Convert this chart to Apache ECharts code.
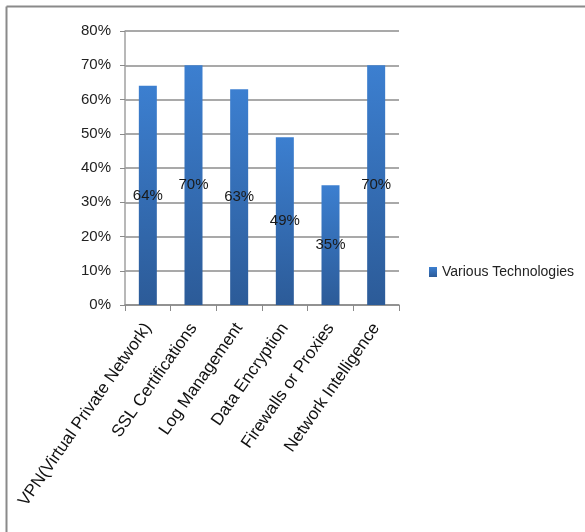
<!DOCTYPE html>
<html>
<head>
<meta charset="utf-8">
<script src="https://cdn.jsdelivr.net/npm/echarts@6/dist/echarts.min.js"></script>
<style>
  html, body { margin: 0; padding: 0; background: #fff; }
  #chart { width: 585px; height: 532px; }
</style>
</head>
<body>
<div id="chart"></div>
<script>
// Technologies on the category axis
const categories = [
  'VPN(Virtual Private Network)',
  'SSL Certifications',
  'Log Management',
  'Data Encryption',
  'Firewalls or Proxies',
  'Network Intelligence'
];
// Share of adoption, in percent
const values = [64, 70, 63, 49, 35, 70];
const seriesName = 'Various Technologies';
// Percent axis range and step
const yMin = 0, yMax = 80, yStep = 10;

const FONT = '"Liberation Sans", Arial, sans-serif';
const chart = echarts.init(document.getElementById('chart'), null, { renderer: 'canvas' });

chart.setOption({
  animation: false,
  backgroundColor: '#ffffff',
  textStyle: { fontFamily: FONT },
  grid: { left: 125, right: 186, top: 31, bottom: 227, containLabel: false },
  legend: {
    data: [seriesName],
    left: 424,
    top: 260,
    orient: 'vertical',
    icon: 'rect',
    itemWidth: 8,
    itemHeight: 10,
    itemGap: 5,
    textStyle: { fontFamily: FONT, fontSize: 14, color: '#222' }
  },
  xAxis: {
    type: 'category',
    data: categories,
    boundaryGap: true,
    axisLine: { show: true, lineStyle: { color: '#8a8a8a', width: 1.5 } },
    axisTick: { show: true, length: 6, alignWithLabel: false, lineStyle: { color: '#8a8a8a', width: 1 } },
    axisLabel: {
      interval: 0,
      rotate: 55,
      margin: 20,
      fontFamily: FONT,
      fontSize: 17,
      color: '#111'
    }
  },
  yAxis: {
    type: 'value',
    min: yMin,
    max: yMax,
    interval: yStep,
    axisLine: { show: true, lineStyle: { color: '#a0a0a0', width: 1.5 } },
    axisTick: { show: true, length: 5, inside: false, lineStyle: { color: '#8a8a8a', width: 1 } },
    axisLabel: {
      formatter: v => v + '%',
      margin: 14,
      fontFamily: FONT,
      fontSize: 15,
      color: '#222'
    },
    splitLine: { show: true, lineStyle: { color: '#8c8c8c', width: 1.5 } }
  },
  series: [{
    name: seriesName,
    type: 'bar',
    data: values,
    barWidth: 18,
    itemStyle: {
      color: new echarts.graphic.LinearGradient(0, 0, 0, 1, [
        { offset: 0, color: '#3c7fd0' },
        { offset: 1, color: '#2c5b98' }
      ])
    },
    label: {
      show: true,
      position: 'inside',
      formatter: p => p.value + '%',
      fontFamily: FONT,
      fontSize: 15,
      color: '#1a1a1a'
    }
  }],
  graphic: [
    // frame around the chart area
    { type: 'line', shape: { x1: 6.5, y1: 6.5, x2: 585, y2: 6.5 }, style: { stroke: '#8a8a8a', lineWidth: 2 }, silent: true },
    { type: 'line', shape: { x1: 6.5, y1: 6.5, x2: 6.5, y2: 532 }, style: { stroke: '#8a8a8a', lineWidth: 2 }, silent: true }
  ]
});
</script>
</body>
</html>
